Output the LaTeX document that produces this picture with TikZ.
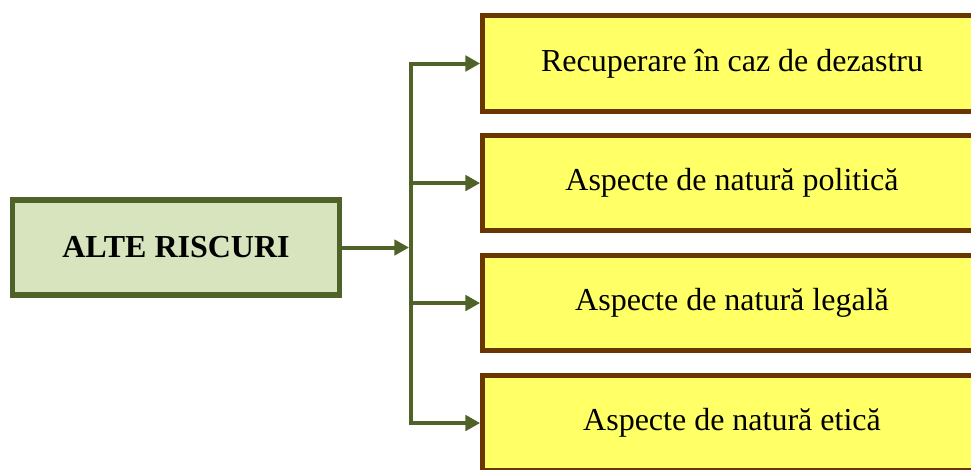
\documentclass[tikz,border=0pt]{standalone}
\usepackage{fontspec}
\setmainfont{Liberation Serif}
\usepackage{tikz}
\usetikzlibrary{arrows.meta}

\definecolor{olivedark}{HTML}{4F6228}
\definecolor{olivelight}{HTML}{D7E4BD}
\definecolor{brownline}{HTML}{6B3500}
\definecolor{lightyellow}{HTML}{FFFF66}

\tikzset{
  mainbox/.style={draw=olivedark,fill=olivelight,line width=4.1pt,
    minimum width=245pt,minimum height=71.5pt,inner sep=0pt,
    font=\fontsize{24}{28}\selectfont\bfseries},
  itembox/.style={draw=brownline,fill=lightyellow,line width=3.8pt,
    minimum width=374pt,minimum height=71.5pt,inner sep=0pt,
    font=\fontsize{24}{28}\selectfont},
  link/.style={draw=olivedark,line width=3pt}
}

\begin{document}
\begin{tikzpicture}[x=0.75pt,y=-0.75pt,>={Triangle[length=11pt,width=11.5pt]}]
  \useasboundingbox (0,0) rectangle (971,469);

  \node[mainbox] (riscuri) at (176,247.5) {ALTE RISCURI};

  \node[itembox] (r1) at (732,63.5) {Recuperare în caz de dezastru};
  \node[itembox] (r2) at (732,183) {Aspecte de natură politică};
  \node[itembox] (r3) at (732,303) {Aspecte de natură legală};
  \node[itembox] (r4) at (732,423) {Aspecte de natură etică};

  % split point on the vertical bus
  \coordinate (split) at (411,247.5);

  \draw[link,->,shorten >=1.5pt] (riscuri) -- (split);
  \draw[link,line cap=rect] (split |- r1.west) -- (split |- r4.west);
  \foreach \n in {r1,r2,r3,r4}
    \draw[link,->] (split |- \n.west) -- (\n.west);
\end{tikzpicture}
\end{document}
